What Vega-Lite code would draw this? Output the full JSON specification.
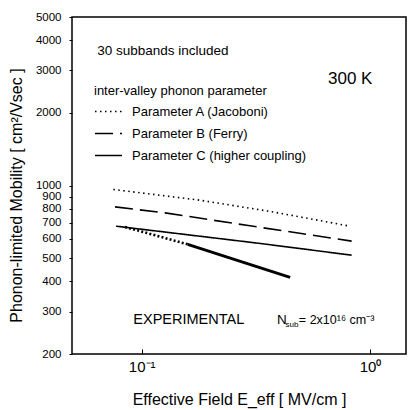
{
  "$schema": "https://vega.github.io/schema/vega-lite/v6.json",
  "width": 334,
  "height": 337,
  "autosize": {"type": "none"},
  "padding": {"left": 72, "top": 17, "right": 2, "bottom": 56},
  "background": "white",
  "config": {
    "font": "Liberation Sans",
    "view": {"stroke": "black", "strokeWidth": 1.5},
    "axis": {"grid": false, "domain": false, "tickColor": "black", "labelColor": "black", "titleColor": "black", "titleFontWeight": "normal"}
  },
  "datasets": {
    "curves": [
      {"param": "Parameter A (Jacoboni)", "E": 0.0751, "mob": 963},
      {"param": "Parameter A (Jacoboni)", "E": 0.18, "mob": 869},
      {"param": "Parameter A (Jacoboni)", "E": 0.376, "mob": 777},
      {"param": "Parameter A (Jacoboni)", "E": 0.817, "mob": 678},
      {"param": "Parameter B (Ferry)", "E": 0.0764, "mob": 815},
      {"param": "Parameter B (Ferry)", "E": 0.1265, "mob": 770},
      {"param": "Parameter B (Ferry)", "E": 0.293, "mob": 682},
      {"param": "Parameter B (Ferry)", "E": 0.831, "mob": 588},
      {"param": "Parameter C (higher coupling)", "E": 0.0772, "mob": 678},
      {"param": "Parameter C (higher coupling)", "E": 0.33, "mob": 575},
      {"param": "Parameter C (higher coupling)", "E": 0.831, "mob": 514}
    ],
    "expDot": [
      {"E": 0.0845, "mob": 672},
      {"E": 0.0916, "mob": 659},
      {"E": 0.159, "mob": 570}
    ],
    "expSolid": [
      {"E": 0.159, "mob": 570},
      {"E": 0.288, "mob": 475},
      {"E": 0.447, "mob": 416}
    ],
    "notes": [
      {"text": "30 subbands included", "E": 0.0638, "mob": 3468},
      {"text": "N", "E": 0.3914, "mob": 266}
    ],
    "expNotes": [
      {"text": "EXPERIMENTAL", "E": 0.0919, "mob": 266}
    ],
    "eqNotes": [
      {"text": "= 2x10¹⁶ cm⁻³", "E": 0.488, "mob": 266}
    ],
    "bigNotes": [
      {"text": "300 K", "E": 0.6547, "mob": 2630}
    ],
    "subNotes": [
      {"text": "sub", "E": 0.4266, "mob": 259}
    ]
  },
  "layer": [
    {
      "data": {"name": "curves"},
      "mark": {"type": "line", "color": "black", "strokeWidth": 1.6},
      "encoding": {
        "x": {"field": "E", "type": "quantitative",
              "scale": {"type": "log", "domain": [0.0495, 1.438], "nice": false},
              "axis": {"values": [0.1, 1], "labelExpr": "datum.value < 0.5 ? '10⁻¹' : '10⁰'", "labelFontSize": 15, "labelPadding": 10, "tickSize": -5, "title": "Effective Field  E_eff  [ MV/cm ]", "titleFontSize": 16, "titlePadding": 17}},
        "y": {"field": "mob", "type": "quantitative",
              "scale": {"type": "log", "domain": [200, 5000], "nice": false},
              "axis": {"values": [200, 300, 400, 500, 600, 700, 800, 900, 1000, 2000, 3000, 4000, 5000], "format": "d", "labelFontSize": 11.5, "labelPadding": 8, "labelOverlap": false, "tickSize": 3, "title": "Phonon-limited Mobility  [ cm²/Vsec ]", "titleFontSize": 16, "titlePadding": 11, "titleY": 178}},
        "strokeDash": {"field": "param", "type": "nominal",
              "scale": {"domain": ["Parameter A (Jacoboni)", "Parameter B (Ferry)", "Parameter C (higher coupling)"], "range": [[1.5, 3.5], [18, 7], [1, 0]]},
              "legend": {"orient": "none", "legendX": 22, "legendY": 68, "title": "inter-valley phonon parameter", "titleFontSize": 13, "titleFontWeight": "normal", "titleColor": "black", "titlePadding": -1, "labelFontSize": 13, "labelColor": "black", "labelLimit": 300, "symbolType": "stroke", "symbolSize": 729, "symbolStrokeColor": "black", "symbolStrokeWidth": 1.6, "labelOffset": 9, "rowPadding": -10, "padding": 0}}
      }
    },
    {
      "data": {"name": "expDot"},
      "mark": {"type": "line", "color": "black", "strokeWidth": 2.6, "strokeDash": [2, 2.2]},
      "encoding": {"x": {"field": "E", "type": "quantitative"}, "y": {"field": "mob", "type": "quantitative"}}
    },
    {
      "data": {"name": "expSolid"},
      "mark": {"type": "line", "color": "black", "strokeWidth": 2.8},
      "encoding": {"x": {"field": "E", "type": "quantitative"}, "y": {"field": "mob", "type": "quantitative"}}
    },
    {
      "data": {"name": "notes"},
      "mark": {"type": "text", "align": "left", "baseline": "alphabetic", "fontSize": 13.5, "color": "black"},
      "encoding": {"x": {"field": "E", "type": "quantitative"}, "y": {"field": "mob", "type": "quantitative"}, "text": {"field": "text"}}
    },
    {
      "data": {"name": "expNotes"},
      "mark": {"type": "text", "align": "left", "baseline": "alphabetic", "fontSize": 14.5, "color": "black"},
      "encoding": {"x": {"field": "E", "type": "quantitative"}, "y": {"field": "mob", "type": "quantitative"}, "text": {"field": "text"}}
    },
    {
      "data": {"name": "eqNotes"},
      "mark": {"type": "text", "align": "left", "baseline": "alphabetic", "fontSize": 12.5, "color": "black"},
      "encoding": {"x": {"field": "E", "type": "quantitative"}, "y": {"field": "mob", "type": "quantitative"}, "text": {"field": "text"}}
    },
    {
      "data": {"name": "bigNotes"},
      "mark": {"type": "text", "align": "left", "baseline": "alphabetic", "fontSize": 17, "color": "black"},
      "encoding": {"x": {"field": "E", "type": "quantitative"}, "y": {"field": "mob", "type": "quantitative"}, "text": {"field": "text"}}
    },
    {
      "data": {"name": "subNotes"},
      "mark": {"type": "text", "align": "left", "baseline": "alphabetic", "fontSize": 8, "color": "black"},
      "encoding": {"x": {"field": "E", "type": "quantitative"}, "y": {"field": "mob", "type": "quantitative"}, "text": {"field": "text"}}
    }
  ]
}
